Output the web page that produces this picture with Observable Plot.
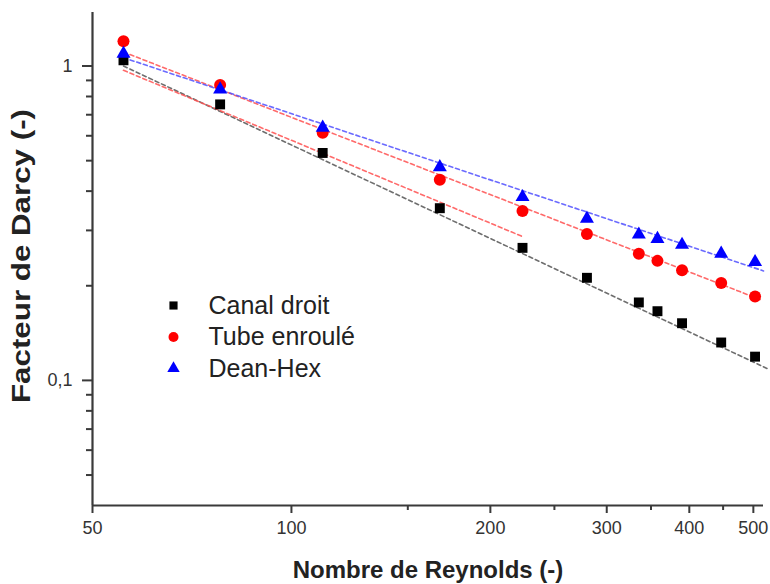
<!DOCTYPE html>
<html><head><meta charset="utf-8">
<script src="https://cdn.jsdelivr.net/npm/d3@7"></script>
<script src="https://cdn.jsdelivr.net/npm/@observablehq/plot@0.6"></script>
<style>body{margin:0;background:#fff} svg{display:block}</style>
</head><body><div id="chart"></div>
<script>
// Data
const reynolds    = [55.7, 78, 111.5, 167.7, 223.7, 280, 335.5, 358, 390, 447, 503];
const canalDroit  = [1.043, 0.755, 0.529, 0.353, 0.264, 0.212, 0.177, 0.166, 0.152, 0.132, 0.119];
const tubeEnroule = [1.20, 0.871, 0.613, 0.435, 0.346, 0.292, 0.253, 0.240, 0.224, 0.204, 0.185];
const deanHex     = [1.095, 0.843, 0.637, 0.477, 0.383, 0.327, 0.291, 0.282, 0.270, 0.253, 0.238];

const seriesNames   = ["Canal droit", "Tube enroulé", "Dean-Hex"];
const seriesValues  = [canalDroit, tubeEnroule, deanHex];
const seriesColors  = ["#000000", "#ff0000", "#0000ff"];
const seriesSymbols = ["square", "circle", "triangle"];

// Fitted (dashed) lines: end points [Re], [f]
const fitCanalRe = [55.7, 525],  fitCanalF = [1.0, 0.109];
const fitTubeRe  = [55.7, 515],  fitTubeF  = [1.108, 0.18];
const fitTube2Re = [55.7, 224.4], fitTube2F = [0.969, 0.286];
const fitDeanRe  = [55.7, 518],  fitDeanF  = [1.063, 0.223];
const fitColors  = ["#555555", "#ff5050", "#ff5050", "#5050ff"];

const xMajorTicks = [50, 100, 200, 300, 400, 500];
const xMinorTicks = [150, 250, 350, 450];
const yMajorTicks = [0.1, 1];
const yTickLabels = ["0,1", "1"];
const yMinorTicks = [0.05, 0.06, 0.07, 0.08, 0.09, 0.2, 0.3, 0.4, 0.5, 0.6, 0.7, 0.8, 0.9];

const xTitle = "Nombre de Reynolds (-)";
const yTitle = "Facteur de Darcy (-)";

const fits = [
  [fitCanalRe, fitCanalF], [fitTubeRe, fitTubeF], [fitTube2Re, fitTube2F], [fitDeanRe, fitDeanF]
].map(([xs, ys]) => d3.zip(xs, ys).map(([x, y]) => ({x, y})));

const axisColor = "#3a3a3a";
const font = "'Liberation Sans', Arial, sans-serif";

const marks = [];
// fit lines
fits.forEach((f, i) => marks.push(Plot.line(f, {
  x: "x", y: "y", stroke: fitColors[i], strokeWidth: 1.6, strokeDasharray: "4,3", strokeOpacity: 0.85
})));
// data points
seriesValues.forEach((vals, i) => marks.push(Plot.dot(reynolds.map((r, j) => ({x: r, y: vals[j]})), {
  x: "x", y: "y", symbol: () => seriesSymbols[i], fill: seriesColors[i], stroke: "none",
  r: [5.6, 6, 5.2][i]
})));
// axes
marks.push(
  Plot.ruleX([50], {stroke: axisColor, strokeWidth: 2.2}),
  Plot.ruleY([0.04], {stroke: axisColor, strokeWidth: 2.2}),
  Plot.axisX(xMajorTicks, {tickSize: 8, tickPadding: 8, strokeWidth: 2, stroke: axisColor,
    fontSize: 18, fill: "#333", tickFormat: d => String(d), label: null}),
  Plot.axisX(xMinorTicks, {tickSize: 5, strokeWidth: 2, stroke: axisColor, tickFormat: () => "", label: null}),
  Plot.axisY(yMajorTicks, {tickSize: 10, tickPadding: 10, strokeWidth: 2, stroke: axisColor,
    fontSize: 18, fill: "#333", tickFormat: d => yTickLabels[yMajorTicks.indexOf(d)], label: null}),
  Plot.axisY(yMinorTicks, {tickSize: 6, strokeWidth: 2, stroke: axisColor, tickFormat: () => "", label: null}),
  Plot.text([xTitle], {frameAnchor: "bottom", dy: 65, textAnchor: "middle", lineAnchor: "middle",
    fontSize: 24, fontWeight: "bold", fill: "#222"}),
  Plot.text([yTitle], {frameAnchor: "left", dx: -71, dy: -3, rotate: -90, textAnchor: "middle", lineAnchor: "middle",
    fontSize: 26, fontWeight: "bold", fill: "#222"})
);
// legend
seriesNames.forEach((name, i) => {
  marks.push(
    Plot.dot([name], {frameAnchor: "top-left", dx: 81, dy: 293 + 31.5 * i,
      symbol: () => seriesSymbols[i], fill: seriesColors[i], r: [4.6, 5, 4.6][i]}),
    Plot.text([name], {frameAnchor: "top-left", dx: 116, dy: 293 + 31.5 * i,
      text: d => d, textAnchor: "start", lineAnchor: "middle", fontSize: 25, fill: "#222"})
  );
});

const chart = Plot.plot({
  width: 770, height: 584,
  marginLeft: 92, marginRight: 7, marginTop: 12, marginBottom: 79,
  style: {fontFamily: font, background: "#fff"},
  x: {type: "log", domain: [50, 518], label: null},
  y: {type: "log", domain: [0.04, 1.48], label: null},
  marks
});
document.getElementById("chart").append(chart);
// stretch the y title along its length to match the reference
d3.select(chart).selectAll("text").filter(function () { return this.textContent === yTitle; })
  .attr("textLength", 294).attr("lengthAdjust", "spacingAndGlyphs");
</script>
</body></html>
